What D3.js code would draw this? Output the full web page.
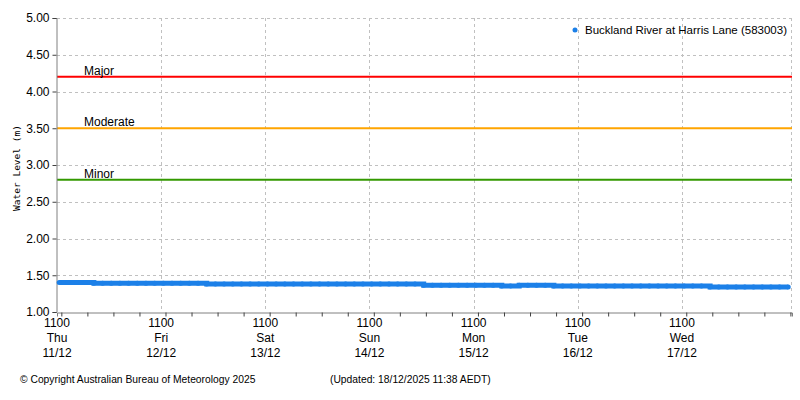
<!DOCTYPE html>
<html>
<head>
<meta charset="utf-8">
<script src="https://cdn.jsdelivr.net/npm/d3@7"></script>
<style>
  body { margin: 0; background: #fff; }
  svg { display: block; font-family: 'Liberation Sans', Arial, sans-serif; }
</style>
</head>
<body>
<svg id="chart" width="800" height="400"></svg>
<script>
// readings every 2 hours from 11/12/2025 11:30
const startTime = new Date(2025, 11, 11, 11, 30);
const stepHours = 2;
const levels = [
  1.40, 1.40, 1.40, 1.40, 1.39, 1.39, 1.39, 1.39, 1.39, 1.39,
  1.39, 1.39, 1.39, 1.39, 1.39, 1.39, 1.39, 1.38, 1.38, 1.38,
  1.38, 1.38, 1.38, 1.38, 1.38, 1.38, 1.38, 1.38, 1.38, 1.38,
  1.38, 1.38, 1.38, 1.38, 1.38, 1.38, 1.38, 1.38, 1.38, 1.38,
  1.38, 1.38, 1.365, 1.365, 1.365, 1.365, 1.365, 1.365, 1.365, 1.365,
  1.365, 1.355, 1.355, 1.365, 1.365, 1.365, 1.365, 1.355, 1.355, 1.355,
  1.355, 1.355, 1.355, 1.355, 1.355, 1.355, 1.355, 1.355, 1.355, 1.355,
  1.355, 1.355, 1.355, 1.355, 1.355, 1.34, 1.34, 1.34, 1.34, 1.34,
  1.34, 1.34, 1.34, 1.34, 1.34
];

const thresholdNames = ['Major', 'Moderate', 'Minor'];
const thresholdValues = [4.2, 3.5, 2.8];
const thresholdColors = ['#ff0000', '#ffa500', '#339900'];

const dayNames = ['Thu', 'Fri', 'Sat', 'Sun', 'Mon', 'Tue', 'Wed'];
const dayDates = ['11/12', '12/12', '13/12', '14/12', '15/12', '16/12', '17/12'];

const yTicks = [1.0, 1.5, 2.0, 2.5, 3.0, 3.5, 4.0, 4.5, 5.0];

const seriesName = 'Buckland River at Harris Lane (583003)';
const copyrightText = '\u00a9 Copyright Australian Bureau of Meteorology 2025';
const updatedText = '(Updated: 18/12/2025 11:38 AEDT)';

const margin = { left: 57, right: 8, top: 18, bottom: 88 };
const width = 800, height = 400;

const svg = d3.select('#chart');

const t0 = new Date(2025, 11, 11, 11, 0);
const t1 = new Date(2025, 11, 18, 12, 22);

const x = d3.scaleTime().domain([t0, t1]).range([margin.left, width - margin.right]);
const y = d3.scaleLinear().domain([1, 5]).range([height - margin.bottom, margin.top]);

const data = levels.map((v, i) => ({
  t: new Date(startTime.getTime() + i * stepHours * 3600 * 1000),
  v,
}));

const dayTicks = dayNames.map((d, i) => new Date(2025, 11, 11 + i, 11, 0));
const minorTicks = d3.timeHour.every(6).range(t0, t1);

// grid
const grid = svg.append('g').attr('class', 'grid');
grid.selectAll('line.h')
  .data(yTicks.slice(1))
  .enter().append('line')
  .attr('x1', margin.left).attr('x2', width - margin.right)
  .attr('y1', (d) => Math.round(y(d)) + 0.5).attr('y2', (d) => Math.round(y(d)) + 0.5)
  .style('stroke', '#c0c0c0')
  .style('stroke-dasharray', '3,3');

grid.selectAll('line.v')
  .data(dayTicks.slice(1))
  .enter().append('line')
  .attr('x1', (d) => Math.round(x(d)) + 0.5).attr('x2', (d) => Math.round(x(d)) + 0.5)
  .attr('y1', margin.top).attr('y2', height - margin.bottom)
  .style('stroke', '#c0c0c0')
  .style('stroke-dasharray', '3,3');

// right border
grid.append('line')
  .attr('x1', width - margin.right - 0.5).attr('x2', width - margin.right - 0.5)
  .attr('y1', margin.top).attr('y2', height - margin.bottom)
  .style('stroke', '#c0c0c0')
  .style('stroke-dasharray', '3,3');

// thresholds
thresholdValues.forEach((v, i) => {
  svg.append('line')
    .attr('x1', margin.left).attr('x2', width - margin.right)
    .attr('y1', y(v)).attr('y2', y(v))
    .style('stroke', thresholdColors[i])
    .style('stroke-width', 2);
  svg.append('text')
    .attr('x', 84)
    .attr('y', y(v) - 2)
    .style('font-size', '12px')
    .text(thresholdNames[i]);
});

// y axis
const yAxis = d3.axisLeft(y).tickValues(yTicks).tickFormat(d3.format('.2f')).tickSize(4).tickPadding(3);
const gy = svg.append('g')
  .attr('transform', `translate(${margin.left - 0.5},0)`)
  .call(yAxis);
gy.select('.domain').style('stroke', '#808080');
gy.selectAll('.tick line').style('stroke', '#404040');
gy.selectAll('.tick text').style('font-size', '12px').style('fill', '#000').style('font-family', "'Liberation Sans', Arial, sans-serif");

// x axis
const xAxis = d3.axisBottom(x).tickValues(minorTicks).tickSize(4).tickFormat('');
const gx = svg.append('g')
  .attr('transform', `translate(0,${height - margin.bottom + 0.5})`)
  .call(xAxis);
gx.select('.domain').style('stroke', '#808080');
gx.selectAll('.tick line').style('stroke', '#404040');

const labels = svg.append('g')
  .selectAll('text')
  .data(dayTicks)
  .enter().append('text')
  .attr('x', (d) => x(d))
  .attr('y', 327)
  .style('text-anchor', 'middle')
  .style('font-size', '12px');
labels.append('tspan').attr('x', (d) => x(d)).attr('dy', 0).text('1100');
labels.append('tspan').attr('x', (d) => x(d)).attr('dy', 15).text((d, i) => dayNames[i]);
labels.append('tspan').attr('x', (d) => x(d)).attr('dy', 15).text((d, i) => dayDates[i]);

// y title
svg.append('text')
  .attr('transform', `translate(20,${(margin.top + height - margin.bottom) / 2 + 3}) rotate(-90)`)
  .style('text-anchor', 'middle')
  .style('font-family', "'DejaVu Sans Mono', monospace")
  .style('font-size', '9.5px')
  .text('Water Level (m)');

// series
const color = '#1c80e8';
svg.append('path')
  .datum(data)
  .attr('d', d3.line().x((d) => x(d.t)).y((d) => y(d.v)).curve(d3.curveStepAfter))
  .style('fill', 'none')
  .style('stroke', color)
  .style('stroke-width', 5);

svg.selectAll('circle.pt')
  .data(data)
  .enter().append('circle')
  .attr('class', 'pt')
  .attr('cx', (d) => x(d.t))
  .attr('cy', (d) => y(d.v))
  .attr('r', 2.5)
  .style('fill', color);

// legend
svg.append('circle')
  .attr('cx', 575).attr('cy', 30).attr('r', 2.5)
  .style('fill', color);
svg.append('text')
  .attr('x', 585).attr('y', 34)
  .style('font-size', '11.5px')
  .text(seriesName);

// footer
svg.append('text')
  .attr('x', 20).attr('y', 383)
  .style('font-size', '10.3px')
  .text(copyrightText);
svg.append('text')
  .attr('x', 330).attr('y', 383)
  .style('font-size', '10.3px')
  .text(updatedText);
</script>
</body>
</html>
